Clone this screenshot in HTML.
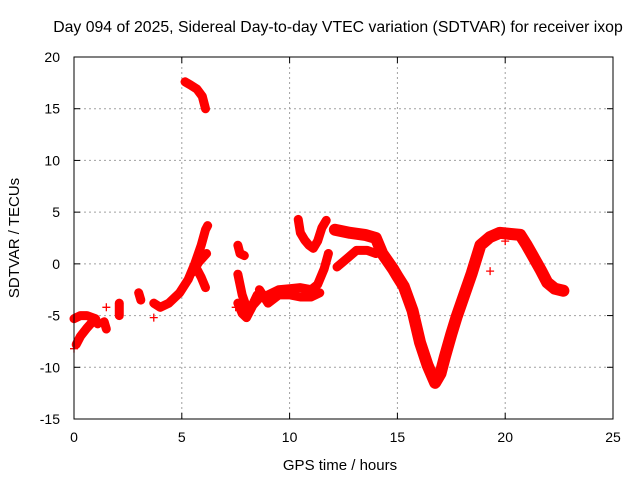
<!DOCTYPE html>
<html><head><meta charset="utf-8"><style>
body{margin:0;background:#fff}
svg text{font-family:"Liberation Sans",sans-serif;font-size:14px;fill:#000}
</style></head><body>
<svg width="640" height="480" viewBox="0 0 640 480">
<rect width="640" height="480" fill="#fff"/>
<text x="338" y="32" text-anchor="middle" style="font-size:15.8px">Day 094 of 2025, Sidereal Day-to-day VTEC variation (SDTVAR) for receiver ixop</text>
<g id="grid"></g>
<g id="axes"></g>
<g id="series"></g>
<rect x="74" y="57" width="539" height="362" fill="none" stroke="#000" stroke-width="1"/>
<text x="340" y="470" text-anchor="middle" style="font-size:15px">GPS time / hours</text>
<text transform="translate(19,238) rotate(-90)" text-anchor="middle" style="font-size:15px">SDTVAR / TECUs</text>
</svg>
<script>
const xTicks=[0,5,10,15,20,25];
const yTicks=[-15,-10,-5,0,5,10,15,20];
const segTop=[[5.15,17.6],[5.4,17.3],[5.7,16.9],[5.95,16.2],[6.1,15.0]];
const segEarlyA=[[0.0,-5.3],[0.3,-5.0],[0.6,-5.0],[1.0,-5.3],[1.1,-5.8]];
const segEarlyB=[[0.1,-7.8],[0.3,-7.0],[0.6,-6.2],[0.9,-5.5]];
const segSmall1=[[1.4,-5.6],[1.5,-6.3]];
const segSmall2=[[2.1,-3.8],[2.1,-5.0]];
const segSmall3=[[3.0,-2.8],[3.1,-3.5]];
const segRise=[[3.7,-3.8],[4.0,-4.2],[4.4,-3.8],[4.9,-2.8],[5.3,-1.5],[5.6,0],[5.9,1.8],[6.1,3.3],[6.2,3.7]];
const segBranch=[[5.5,-0.8],[5.8,0.2],[6.15,1.0]];
const segTail=[[5.7,-0.5],[5.9,-1.3],[6.1,-2.3]];
const segMid=[[7.6,-1.0],[7.8,-3.0],[8.0,-4.2],[8.2,-4.3],[8.5,-3.0],[8.8,-3.3],[9.0,-3.0],[9.5,-2.5],[10.0,-2.4],[10.5,-2.3],[11.0,-2.5],[11.3,-2.0],[11.6,-0.5],[11.8,1.0]];
const segMidB=[[8.6,-2.5],[9.0,-3.8],[9.5,-3.0],[10.0,-3.0],[10.5,-3.2],[11.0,-3.2],[11.4,-2.8]];
const segMidLow=[[7.6,-3.8],[7.8,-4.8],[8.0,-5.2],[8.3,-4.0],[8.6,-3.3]];
const segSmall4=[[7.6,1.8],[7.7,1.0],[7.9,0.8]];
const segLoop=[[10.4,4.3],[10.5,3.0],[10.7,2.3],[10.9,1.8],[11.1,1.5],[11.3,2.2],[11.5,3.5],[11.7,4.2]];
const segMain=[[12.1,3.3],[12.8,3.0],[13.5,2.8],[14.0,2.5],[14.3,1.0],[14.8,-0.5],[15.0,-1.2],[15.3,-2.2],[15.7,-4.5],[16.05,-7.6],[16.4,-9.8],[16.75,-11.5],[17.0,-10.6],[17.2,-9.0],[17.5,-6.8],[17.75,-5.1],[18.1,-3.0],[18.45,-0.9],[18.85,1.8],[19.3,2.6],[19.75,3.0],[20.2,2.9],[20.7,2.8],[21.0,1.8],[21.3,0.7],[21.65,-0.6],[21.95,-1.8],[22.3,-2.4],[22.7,-2.6]];
const segMainLow=[[12.2,-0.3],[12.6,0.4],[13.1,1.3],[13.6,1.3],[14.0,1.0]];
const segments=[segTop,segEarlyA,segEarlyB,segSmall1,segSmall2,segSmall3,segRise,segBranch,segTail,segMid,segMidB,segMidLow,segSmall4,segLoop,segMain,segMainLow];
const strays=[[0.0,-8.2],[1.5,-4.2],[3.7,-5.2],[7.5,-4.2],[19.3,-0.7],[20.0,2.2]];

const X0=74,X1=613,Y0=419,Y1=57;
const sx=t=>X0+(t-0)/(25-0)*(X1-X0);
const sy=v=>Y0-(v+15)/(35)*(Y0-Y1);
const NS='http://www.w3.org/2000/svg';
const mk=(tag,attrs,parent)=>{const e=document.createElementNS(NS,tag);for(const k in attrs)e.setAttribute(k,attrs[k]);parent.appendChild(e);return e;};
const grid=document.getElementById('grid'),axes=document.getElementById('axes'),ser=document.getElementById('series');
xTicks.forEach(t=>{
  const x=sx(t);
  if(t>0&&t<25){const g=mk('line',{x1:x,x2:x,y1:Y1,y2:Y0,stroke:'#a0a0a0','stroke-dasharray':'2,3'},grid);
  
  }
  mk('line',{x1:x,x2:x,y1:Y0,y2:Y0-6,stroke:'#000'},axes);
  mk('line',{x1:x,x2:x,y1:Y1,y2:Y1+6,stroke:'#000'},axes);
  const l=mk('text',{x:x,y:Y0+23,'text-anchor':'middle'},axes);l.textContent=t;
  
  
});
yTicks.forEach(v=>{
  const y=sy(v);
  if(v>-15&&v<20){const g=mk('line',{x1:X0,x2:X1,y1:y,y2:y,stroke:'#a0a0a0','stroke-dasharray':'2,3'},grid);
  
  }
  mk('line',{x1:X0,x2:X0+6,y1:y,y2:y,stroke:'#000'},axes);
  mk('line',{x1:X1,x2:X1-6,y1:y,y2:y,stroke:'#000'},axes);
  const l=mk('text',{x:X0-14,y:y+5,'text-anchor':'end'},axes);l.textContent=v;
  
  
});
const plus=(t,v)=>{const x=sx(t),y=sy(v);
  const p=mk('path',{d:`M${x-4},${y}H${x+4}M${x},${y-4}V${y+4}`,stroke:'#f00','stroke-width':1.3},ser);
  
  };
segments.forEach(s=>{
  const w=(s===segMain)?12:9;
  const pl=mk('polyline',{points:s.map(p=>sx(p[0])+','+sy(p[1])).join(' '),fill:'none',stroke:'#f00','stroke-width':w,'stroke-linejoin':'round','stroke-linecap':'round'},ser);
  
  
  s.forEach(p=>plus(p[0],p[1]));
});
strays.forEach(p=>plus(p[0],p[1]));
</script>
</body></html>
